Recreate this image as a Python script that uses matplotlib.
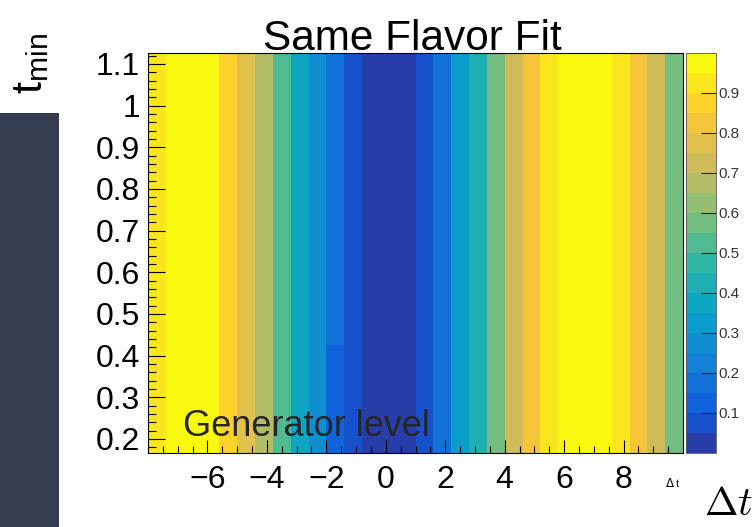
import numpy as np
import matplotlib
matplotlib.use("Agg")
import matplotlib.pyplot as plt
from matplotlib.colors import ListedColormap, BoundaryNorm
from matplotlib.patches import Rectangle
from matplotlib.ticker import FixedLocator, MultipleLocator, FuncFormatter

plt.rcParams['font.family'] = ['Liberation Sans', 'DejaVu Sans']

# ---- data -------------------------------------------------------------
# Delta t binning (30 bins)
dt_lo, dt_hi, n_dt = -8.0, 10.0, 30
# t_min rows (bin centres) and edges
tmin = [0.2, 0.25, 0.3, 0.35, 0.4, 0.45, 0.5, 0.55, 0.6, 0.65,
        0.7, 0.75, 0.8, 0.85, 0.9, 0.95, 1.0, 1.05, 1.1]
tmin_edges = [0.166, 0.225, 0.275, 0.325, 0.375, 0.425, 0.475, 0.525,
              0.575, 0.625, 0.675, 0.725, 0.775, 0.825, 0.875, 0.925,
              0.975, 1.025, 1.075, 1.126]
# same-flavour fraction per Delta t bin
sf_frac = [0.93, 0.98, 0.99, 0.97, 0.87, 0.78, 0.68, 0.53, 0.38, 0.27,
           0.17, 0.08, 0.03, 0.01, 0.02, 0.07, 0.18, 0.33, 0.43, 0.58,
           0.72, 0.83, 0.92, 0.97, 0.99, 0.98, 0.93, 0.83, 0.73, 0.58]
# bin 10 drops a level for the lowest t_min cuts
low_tmin_bin = 10
low_tmin_cut = 0.4
low_tmin_value = 0.14

x_ticks = [-6, -4, -2, 0, 2, 4, 6, 8]
y_ticks = [0.2, 0.3, 0.4, 0.5, 0.6, 0.7, 0.8, 0.9, 1.0, 1.1]
z_ticks = [0.1, 0.2, 0.3, 0.4, 0.5, 0.6, 0.7, 0.8, 0.9]

# ---- ROOT kBird palette, 20 contour levels ----------------------------
stops = [0.0, 0.125, 0.25, 0.375, 0.5, 0.625, 0.75, 0.875, 1.0]
red = [0.2082, 0.0592, 0.0780, 0.0232, 0.1802, 0.5301, 0.8186, 0.9956, 0.9764]
green = [0.1664, 0.3599, 0.5041, 0.6419, 0.7178, 0.7492, 0.7328, 0.7862, 0.9832]
blue = [0.5293, 0.8684, 0.8385, 0.7914, 0.6425, 0.4662, 0.3499, 0.1968, 0.0539]
n_cont, n_pal = 20, 255
pos = [int((i + 0.99) * n_pal / n_cont) / n_pal for i in range(n_cont)]
colors = [(np.interp(p, stops, red), np.interp(p, stops, green),
           np.interp(p, stops, blue)) for p in pos]
cmap = ListedColormap(colors)
levels = np.linspace(0, 1, n_cont + 1)
norm = BoundaryNorm(levels, cmap.N)

# ---- figure -----------------------------------------------------------
W, H = 756, 527
fig = plt.figure(figsize=(W / 100, H / 100), dpi=100)

def fx(px):
    return px / W

def fy(py):
    return 1 - py / H

ax = fig.add_axes([fx(148), fy(453), fx(683) - fx(148), fy(53) - fy(453)])

dt_edges = np.linspace(dt_lo, dt_hi, n_dt + 1)
z = np.tile(np.array(sf_frac), (len(tmin), 1))
z[np.array(tmin) <= low_tmin_cut, low_tmin_bin] = low_tmin_value
mesh = ax.pcolormesh(dt_edges, tmin_edges, z, cmap=cmap, norm=norm,
                     shading='flat', linewidth=0, antialiased=False)

ax.set_xlim(dt_lo, dt_hi)
ax.set_ylim(tmin_edges[0], tmin_edges[-1])
ax.xaxis.set_major_locator(FixedLocator(x_ticks))
ax.xaxis.set_minor_locator(MultipleLocator(0.5))
ax.yaxis.set_major_locator(FixedLocator(y_ticks))
ax.yaxis.set_minor_locator(MultipleLocator(0.02))
ax.yaxis.set_major_formatter(FuncFormatter(lambda v, p: f"{v:g}"))
ax.tick_params(which='both', direction='in', top=False, right=False,
               labelsize=23, width=0.8, color='black')
ax.tick_params(axis='x', which='major', length=9.4, pad=9)
ax.tick_params(axis='x', which='minor', length=4.7)
ax.tick_params(axis='y', which='major', length=12.2, pad=5.5)
ax.tick_params(axis='y', which='minor', length=5.8)
for s in ax.spines.values():
    s.set_linewidth(0.8)
    s.set_color('black')

ax.text(fx(183), fy(436), "Generator level", transform=fig.transFigure,
        fontsize=26, color='#262626', ha='left', va='baseline')

# colour scale
cax = fig.add_axes([fx(686), fy(453), fx(716) - fx(686), fy(53) - fy(453)])
cb = fig.colorbar(mesh, cax=cax, ticks=z_ticks)
cb.minorticks_off()
cb.outline.set_linewidth(0.6)
cb.outline.set_edgecolor('#555555')
cax.tick_params(direction='in', length=10.8, width=0.8, labelsize=11,
                pad=1.5, color='#222222', labelcolor='#333333')
cax.yaxis.set_major_formatter(FuncFormatter(lambda v, p: f"{v:g}"))

# titles
fig.text(fx(412), fy(50), "Same Flavor Fit", fontsize=30.5, ha='center',
         va='baseline', color='black')
fig.text(fx(681), fy(487), r"$\Delta$ t", fontsize=8.5, ha='right',
         va='baseline', family=['Liberation Serif', 'DejaVu Serif'])

# side panel and labels
fig.patches.append(Rectangle((0, 0), fx(59), fy(113), transform=fig.transFigure,
                             facecolor='#333d4f', edgecolor='none', zorder=0))
fig.text(fx(31), fy(64), r"$\mathregular{t_{min}}$", rotation=90,
         fontsize=31, ha='center', va='center', color='black')
fig.text(fx(753), fy(504), r"$\Delta t$", fontsize=29, ha='right',
         va='center', math_fontfamily='cm', color='black')

fig.savefig("out.png", dpi=100)
